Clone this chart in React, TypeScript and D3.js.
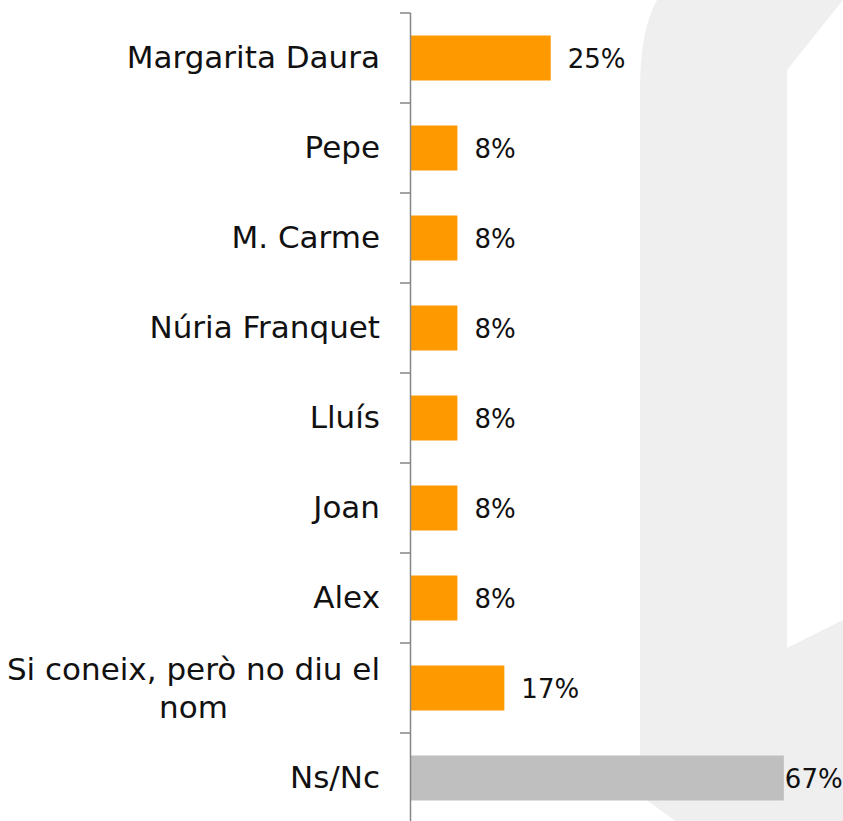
import React, { useEffect, useRef } from "react";
import * as d3 from "d3";

const categories = [
  "Margarita Daura",
  "Pepe",
  "M. Carme",
  "Núria Franquet",
  "Lluís",
  "Joan",
  "Alex",
  "Si coneix, però no diu el nom",
  "Ns/Nc",
];
const labelLines = [
  ["Margarita Daura"],
  ["Pepe"],
  ["M. Carme"],
  ["Núria Franquet"],
  ["Lluís"],
  ["Joan"],
  ["Alex"],
  ["Si coneix, però no diu el", "nom"],
  ["Ns/Nc"],
];
const values = [25, 8.3, 8.3, 8.3, 8.3, 8.3, 8.3, 16.7, 66.7];
const barColors = ["#FF9900", "#FF9900", "#FF9900", "#FF9900", "#FF9900", "#FF9900", "#FF9900", "#FF9900", "#BFBFBF"];

const W = 843;
const H = 821;

export default function App() {
  const ref = useRef<SVGSVGElement | null>(null);

  useEffect(() => {
    const svg = d3.select(ref.current);
    svg.selectAll("*").remove();

    const font = "'DejaVu Sans', sans-serif";

    // faint watermark shape
    svg
      .append("path")
      .attr(
        "d",
        "M657,0 Q640,30 640,90 L640,795 L675,821 L843,821 L843,620 L787,648 L787,70 L843,0 Z"
      )
      .attr("fill", "#EFEFEF");

    const y = d3
      .scaleBand<string>()
      .domain(categories)
      .range([13, 823])
      .paddingInner(0.5)
      .paddingOuter(0.25);
    const x = d3.scaleLinear().domain([0, 100]).range([411, 970]);

    const gap = (y.step() - y.bandwidth()) / 2;
    const bounds = categories.map((c) => (y(c) as number) - gap);

    const g = svg.append("g");

    // bars
    g.selectAll("rect.bar")
      .data(values)
      .join("rect")
      .attr("class", "bar")
      .attr("x", x(0))
      .attr("y", (_, i) => y(categories[i]) as number)
      .attr("width", (d) => x(d) - x(0))
      .attr("height", y.bandwidth())
      .attr("fill", (_, i) => barColors[i]);

    // axis line and ticks
    g.append("line")
      .attr("x1", 410.5)
      .attr("x2", 410.5)
      .attr("y1", bounds[0])
      .attr("y2", H)
      .attr("stroke", "#868686")
      .attr("stroke-width", 1.5);
    g.selectAll("line.tick")
      .data(bounds)
      .join("line")
      .attr("class", "tick")
      .attr("x1", 400)
      .attr("x2", 410.5)
      .attr("y1", (d) => d)
      .attr("y2", (d) => d)
      .attr("stroke", "#868686")
      .attr("stroke-width", 1.5);

    // category labels
    labelLines.forEach((lines, i) => {
      const cy = (y(categories[i]) as number) + y.bandwidth() / 2;
      if (lines.length === 1) {
        g.append("text")
          .attr("x", 380)
          .attr("y", cy + 10)
          .attr("text-anchor", "end")
          .attr("font-family", font)
          .attr("font-size", 31)
          .attr("fill", "#111")
          .text(lines[0]);
      } else {
        const t1 = g
          .append("text")
          .attr("x", 380)
          .attr("y", cy - 8)
          .attr("text-anchor", "end")
          .attr("font-family", font)
          .attr("font-size", 31)
          .attr("fill", "#111")
          .text(lines[0]);
        const w1 = (t1.node() as SVGTextElement).getComputedTextLength();
        g.append("text")
          .attr("x", 380 - w1 / 2)
          .attr("y", cy + 30)
          .attr("text-anchor", "middle")
          .attr("font-family", font)
          .attr("font-size", 31)
          .attr("fill", "#111")
          .text(lines[1]);
      }
    });

    // value labels
    const fmt = d3.format(".0f");
    values.forEach((v, i) => {
      const cy = (y(categories[i]) as number) + y.bandwidth() / 2;
      const t = g
        .append("text")
        .attr("x", x(v) + 17)
        .attr("y", cy + 10)
        .attr("font-family", font)
        .attr("font-size", 26)
        .attr("fill", "#111")
        .text(fmt(v) + "%");
      const w = (t.node() as SVGTextElement).getComputedTextLength();
      if (x(v) + 17 + w > W - 2) t.attr("x", x(v) + 1);
    });
  }, []);

  return (
    <svg
      ref={ref}
      width={W}
      height={H}
      style={{ position: "absolute", left: 0, top: 0, background: "#fff" }}
    />
  );
}
